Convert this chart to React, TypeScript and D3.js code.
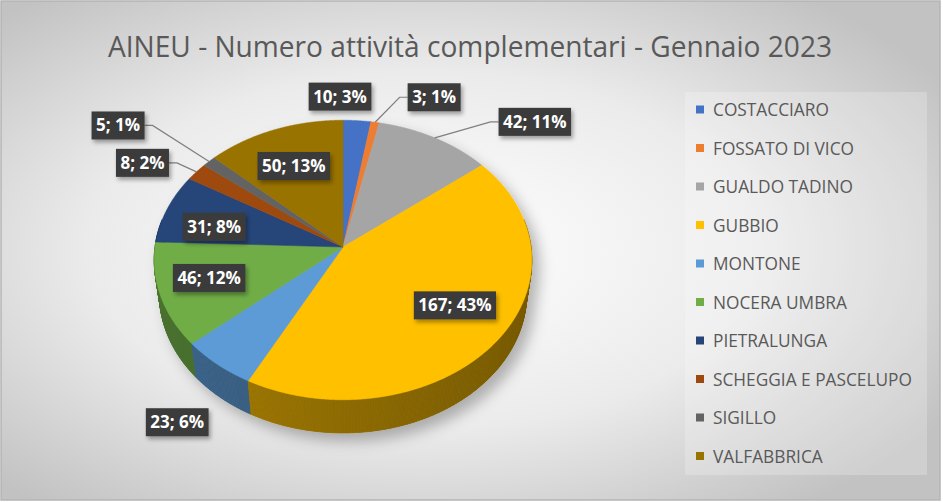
import React, { useEffect, useRef } from "react";
import * as d3 from "d3";

const TITLE = "AINEU - Numero attività complementari - Gennaio 2023";
const categories = [
  "COSTACCIARO",
  "FOSSATO DI VICO",
  "GUALDO TADINO",
  "GUBBIO",
  "MONTONE",
  "NOCERA UMBRA",
  "PIETRALUNGA",
  "SCHEGGIA E PASCELUPO",
  "SIGILLO",
  "VALFABBRICA",
];
const values = [10, 3, 42, 167, 23, 46, 31, 8, 5, 50];
const colors = [
  "#4472C4", "#ED7D31", "#A5A5A5", "#FFC000", "#5B9BD5",
  "#70AD47", "#264478", "#9E480E", "#636363", "#997300",
];

// label layout (Excel-like manual placement): inside/outside + pixel nudge
const labelLayout: { inside: boolean; dx: number; dy: number; leader: boolean }[] = [
  { inside: false, dx: -17, dy: -24, leader: false },
  { inside: false, dx: 59, dy: -25, leader: true },
  { inside: false, dx: 100, dy: -16, leader: true },
  { inside: true, dx: 6, dy: -6, leader: false },
  { inside: false, dx: -40, dy: 58, leader: false },
  { inside: true, dx: -7, dy: -2, leader: false },
  { inside: true, dx: -5, dy: 7, leader: false },
  { inside: false, dx: -54, dy: -9, leader: true },
  { inside: false, dx: -91, dy: -36, leader: true },
  { inside: true, dx: 0, dy: 3, leader: false },
];

const W = 943;
const H = 502;

export default function App() {
  const ref = useRef<SVGSVGElement>(null);

  useEffect(() => {
    const svg = d3.select(ref.current!);
    svg.selectAll("*").remove();

    const defs = svg.append("defs");
    const rg = defs
      .append("radialGradient")
      .attr("id", "bg")
      .attr("cx", "45%")
      .attr("cy", "50%")
      .attr("r", "65%");
    rg.append("stop").attr("offset", "0%").attr("stop-color", "#ffffff");
    rg.append("stop").attr("offset", "55%").attr("stop-color", "#ebebeb");
    rg.append("stop").attr("offset", "100%").attr("stop-color", "#c2c2c2");

    const sh = defs.append("filter").attr("id", "shadow").attr("x", "-20%").attr("y", "-20%").attr("width", "140%").attr("height", "140%");
    sh.append("feDropShadow").attr("dx", 7).attr("dy", 8).attr("stdDeviation", 7).attr("flood-color", "#000").attr("flood-opacity", 0.28);
    const lsh = defs.append("filter").attr("id", "lshadow").attr("x", "-20%").attr("y", "-30%").attr("width", "140%").attr("height", "170%");
    lsh.append("feDropShadow").attr("dx", 2).attr("dy", 3).attr("stdDeviation", 2).attr("flood-color", "#000").attr("flood-opacity", 0.35);

    // background
    svg.append("rect").attr("x", 1).attr("y", 1).attr("width", W - 4).attr("height", H - 3)
      .attr("fill", "url(#bg)").attr("stroke", "#b4b4b4").attr("stroke-width", 1.5);

    // title
    svg.append("text").attr("x", 470).attr("y", 57).attr("text-anchor", "middle")
      .attr("font-family", "'Open Sans', sans-serif").attr("font-weight", 400)
      .attr("font-size", 29).attr("fill", "#595959")
      .attr("textLength", 724).attr("lengthAdjust", "spacingAndGlyphs").text(TITLE);

    // ---- 3D pie projection ----
    const cx = 343, cy = 247;
    const S = 188; // screen scale
    const Dd = 7.26; // camera distance
    const sinP = 0.737, cosP = 0.675;
    const depth = 0.279;
    const proj = (theta: number, r: number, yy: number) => {
      const x = r * Math.sin(theta);
      const z = r * Math.cos(theta);
      const den = Dd + z * cosP - yy * sinP;
      const up = yy * cosP + z * sinP;
      return [cx + (S * Dd * x) / den, cy - (S * Dd * up) / den] as [number, number];
    };

    const pie = d3.pie<number>().sort(null).value((d) => d)(values);
    const total = d3.sum(values);

    const g = svg.append("g").attr("filter", "url(#shadow)");

    // side walls (quads per small step)
    type Quad = { pts: [number, number][]; z: number; color: string };
    const quads: Quad[] = [];
    const step = Math.PI / 360;
    pie.forEach((a, i) => {
      const n = Math.max(1, Math.ceil((a.endAngle - a.startAngle) / step));
      for (let k = 0; k < n; k++) {
        const t0 = a.startAngle + ((a.endAngle - a.startAngle) * k) / n;
        const t1 = a.startAngle + ((a.endAngle - a.startAngle) * (k + 1)) / n;
        const tm = (t0 + t1) / 2;
        if (Math.cos(tm) > 0.2) continue;
        const shade = 1.15 + 1.0 * ((Math.sin(tm) + 1) / 2);
        const c = d3.color(colors[i])!.darker(shade).formatHex();
        quads.push({
          pts: [proj(t0, 1, 0), proj(t1, 1, 0), proj(t1, 1, -depth), proj(t0, 1, -depth)],
          z: Math.cos(tm),
          color: c,
        });
      }
    });
    quads.sort((a, b) => b.z - a.z);
    g.append("g").selectAll("path").data(quads).join("path")
      .attr("d", (q) => "M" + q.pts.map((p) => p.join(",")).join("L") + "Z")
      .attr("fill", (q) => q.color).attr("stroke", (q) => q.color).attr("stroke-width", 0.8);

    // top face
    const line = d3.line();
    g.append("g").selectAll("path").data(pie).join("path")
      .attr("d", (a) => {
        const pts: [number, number][] = [proj(0, 0, 0)];
        const n = Math.max(2, Math.ceil((a.endAngle - a.startAngle) / (step / 2)));
        for (let k = 0; k <= n; k++) {
          const t = a.startAngle + ((a.endAngle - a.startAngle) * k) / n;
          pts.push(proj(t, 1, 0));
        }
        return line(pts)! + "Z";
      })
      .attr("fill", (_, i) => colors[i]).attr("stroke", (_, i) => colors[i]).attr("stroke-width", 0.5);

    // labels
    const lg = svg.append("g");
    pie.forEach((a, i) => {
      const lay = labelLayout[i];
      const mid = (a.startAngle + a.endAngle) / 2;
      const anchor = proj(mid, lay.inside ? 0.7 : 1, 0);
      const lx = anchor[0] + lay.dx;
      const ly = anchor[1] + lay.dy;
      const pct = Math.round((values[i] / total) * 100);
      const txt = `${values[i]}; ${pct}%`;
      const grp = lg.append("g");
      const rect = grp.append("rect").attr("fill", "#3b3b3b").attr("filter", "url(#lshadow)");
      const t = grp.append("text").attr("x", lx).attr("y", ly + 6).attr("text-anchor", "middle")
        .attr("font-family", "'Open Sans', sans-serif").attr("font-weight", 700)
        .attr("font-size", 17).attr("fill", "#ffffff").text(txt);
      const w = (t.node() as SVGTextElement).getComputedTextLength();
      const bw = w + 9, bh = 28;
      rect.attr("x", lx - bw / 2).attr("y", ly - bh / 2).attr("width", bw).attr("height", bh);
      if (lay.leader) {
        const right = lx > anchor[0];
        const ex = right ? lx - bw / 2 : lx + bw / 2;
        const kx = right ? ex - 8 : ex + 8;
        lg.insert("path", ":first-child")
          .attr("d", d3.line()([anchor, [kx, ly], [ex, ly]])!)
          .attr("fill", "none").attr("stroke", "#7f7f7f").attr("stroke-width", 1.2);
      }
    });

    // legend
    svg.append("rect").attr("x", 685).attr("y", 92).attr("width", 242).attr("height", 383)
      .attr("fill", "#ffffff").attr("fill-opacity", 0.22);
    const leg = svg.append("g");
    const ly0 = 110, lstep = 38.5;
    categories.forEach((c, i) => {
      const y = ly0 + i * lstep;
      leg.append("rect").attr("x", 696).attr("y", y - 4.5).attr("width", 8).attr("height", 8).attr("fill", colors[i]);
      leg.append("text").attr("x", 713).attr("y", y + 6)
        .attr("font-family", "'Open Sans', sans-serif").attr("font-size", 17.3)
        .attr("fill", "#595959").text(c);
    });
  }, []);

  return (
    <svg ref={ref} width={W} height={H} style={{ position: "absolute", left: 0, top: 0 }} />
  );
}
